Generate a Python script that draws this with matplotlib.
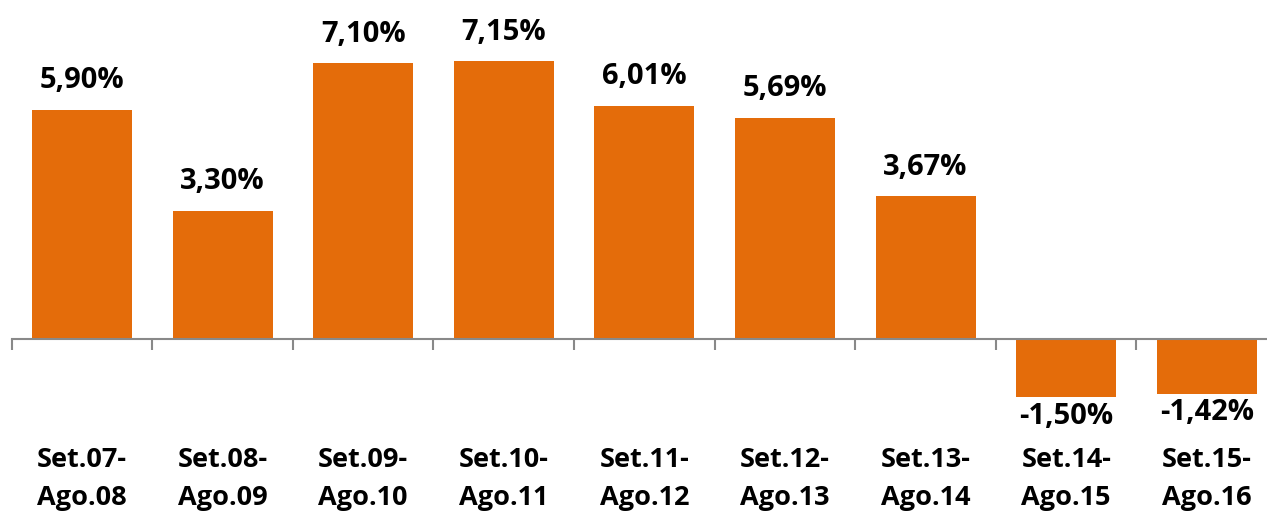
import matplotlib
matplotlib.use("Agg")
import matplotlib.pyplot as plt
from matplotlib.transforms import blended_transform_factory

categories = ["Set.07-\nAgo.08", "Set.08-\nAgo.09", "Set.09-\nAgo.10", "Set.10-\nAgo.11",
              "Set.11-\nAgo.12", "Set.12-\nAgo.13", "Set.13-\nAgo.14", "Set.14-\nAgo.15",
              "Set.15-\nAgo.16"]
values = [5.90, 3.30, 7.10, 7.15, 6.01, 5.69, 3.67, -1.50, -1.42]
value_labels = ["5,90%", "3,30%", "7,10%", "7,15%", "6,01%", "5,69%", "3,67%", "-1,50%", "-1,42%"]

W, H = 1267, 511
fig = plt.figure(figsize=(W / 100, H / 100), dpi=100)
plt.rcParams['font.family'] = ['Open Sans', 'DejaVu Sans']

left_px = 11.7
step_px = 140.6
ax = fig.add_axes([left_px / W, 0, 9 * step_px / W, 1])
ppu = 38.8
zero_from_bottom = H - 338.7
ax.set_ylim(-zero_from_bottom / ppu, 338.7 / ppu)
ax.set_xlim(-0.5, 8.5)

x = list(range(len(values)))
ax.bar(x, values, width=0.711, color="#E46C0A", edgecolor="none", zorder=2)

for s in ["top", "right", "left"]:
    ax.spines[s].set_visible(False)
ax.spines["bottom"].set_position(("data", 0))
ax.spines["bottom"].set_color("#898989")
ax.spines["bottom"].set_linewidth(1.5)
ax.spines["bottom"].set_zorder(3)
ax.yaxis.set_visible(False)
ax.set_xticks([i - 0.5 for i in range(len(values) + 1)])
ax.set_xticklabels([])
ax.tick_params(axis="x", direction="out", length=7.6, width=1.5, color="#898989")
ax.patch.set_visible(False)

for xi, v, lab in zip(x, values, value_labels):
    if v >= 0:
        ax.annotate(lab, (xi, v), xytext=(0, 15.6), textcoords="offset points",
                    ha="center", va="baseline", fontsize=21, fontweight="bold", color="black")
    else:
        ax.annotate(lab, (xi, v), xytext=(0, -19.2), textcoords="offset points",
                    ha="center", va="baseline", fontsize=21, fontweight="bold", color="black")

tr = blended_transform_factory(ax.transData, fig.transFigure)
for xi, cat in zip(x, categories):
    l1, l2 = cat.split("\n")
    ax.text(xi, 44.3 / H, l1, transform=tr, ha="center", va="baseline",
            fontsize=19.5, fontweight="bold", color="black")
    ax.text(xi, 6.0 / H, l2, transform=tr, ha="center", va="baseline",
            fontsize=19.5, fontweight="bold", color="black")

fig.savefig("out.png", dpi=100)
